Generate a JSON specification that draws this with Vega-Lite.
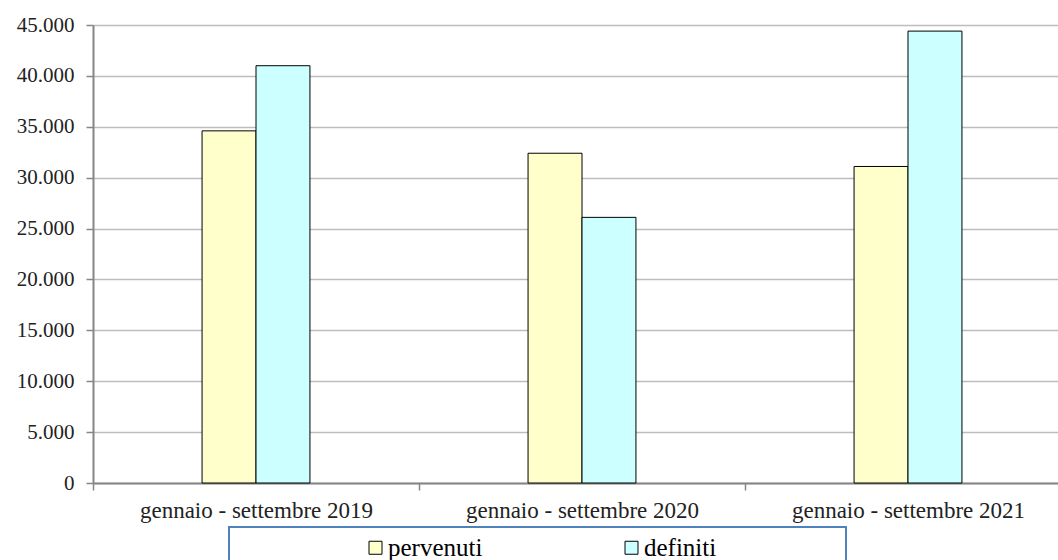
{
  "$schema": "https://vega.github.io/schema/vega-lite/v6.json",
  "autosize": {"type": "none"},
  "padding": {"left": 93, "top": 25, "right": 0, "bottom": 77},
  "width": 965,
  "height": 458,
  "background": "white",
  "config": {
    "view": {"stroke": null},
    "font": "Liberation Serif",
    "legend": {"labelFont": "Liberation Serif", "titleFont": "Liberation Serif"}
  },
  "data": {
    "values": [
      {"periodo": "gennaio - settembre 2019", "serie": "pervenuti", "valore": 34600},
      {"periodo": "gennaio - settembre 2019", "serie": "definiti", "valore": 41000},
      {"periodo": "gennaio - settembre 2020", "serie": "pervenuti", "valore": 32400},
      {"periodo": "gennaio - settembre 2020", "serie": "definiti", "valore": 26100},
      {"periodo": "gennaio - settembre 2021", "serie": "pervenuti", "valore": 31100},
      {"periodo": "gennaio - settembre 2021", "serie": "definiti", "valore": 44400}
    ]
  },
  "mark": {"type": "bar", "stroke": "#000000", "strokeWidth": 1},
  "encoding": {
    "x": {
      "field": "periodo",
      "type": "nominal",
      "sort": null,
      "scale": {"range": [0, 978], "paddingInner": 0.669, "paddingOuter": 0.3345},
      "axis": {
        "title": null,
        "labelAngle": 0,
        "bandPosition": 0,
        "tickOffset": -109,
        "labelOffset": 109,
        "domainColor": "#868686",
        "domainWidth": 2,
        "tickColor": "#868686",
        "tickWidth": 1.5,
        "tickSize": 7,
        "labelFont": "Liberation Serif",
        "labelFontSize": 23,
        "labelColor": "#222222",
        "labelPadding": 9,
        "labelLimit": 400,
        "grid": false
      }
    },
    "xOffset": {
      "field": "serie",
      "type": "nominal",
      "sort": ["pervenuti", "definiti"],
      "scale": {"paddingInner": 0, "paddingOuter": 0}
    },
    "y": {
      "field": "valore",
      "type": "quantitative",
      "scale": {"domain": [0, 45000], "nice": false},
      "axis": {
        "title": null,
        "values": [0, 5000, 10000, 15000, 20000, 25000, 30000, 35000, 40000, 45000],
        "labelExpr": "replace(format(datum.value, ','), ',', '.')",
        "labelFont": "Liberation Serif",
        "labelFontSize": 21,
        "labelColor": "#222222",
        "labelPadding": 12,
        "tickSize": 7,
        "tickColor": "#868686",
        "tickWidth": 1.5,
        "domainColor": "#868686",
        "domainWidth": 2,
        "gridColor": "#bdbdbd",
        "gridWidth": 1.5
      }
    },
    "color": {
      "field": "serie",
      "type": "nominal",
      "scale": {"domain": ["pervenuti", "definiti"], "range": ["#FFFFCC", "#CCFFFF"]},
      "legend": {
        "title": "\u00a0",
        "titleOrient": "right",
        "titleFontSize": 1,
        "titlePadding": 122,
        "orient": "none",
        "legendX": 136,
        "legendY": 502,
        "direction": "horizontal",
        "columns": 2,
        "columnPadding": 10,
        "symbolType": "square",
        "symbolSize": 169,
        "symbolStrokeColor": "#000000",
        "symbolStrokeWidth": 1,
        "symbolOffset": 126,
        "labelFont": "Liberation Serif",
        "labelFontSize": 25,
        "labelColor": "#000000",
        "labelOffset": 0,
        "labelLimit": 300,
        "padding": 8,
        "strokeColor": "#4F81BD",
        "fillColor": "white",
        "encode": {
          "legend": {"update": {"strokeWidth": {"value": 2}}},
          "labels": {"update": {"font": {"value": "Liberation Serif"}}}
        }
      }
    }
  }
}
